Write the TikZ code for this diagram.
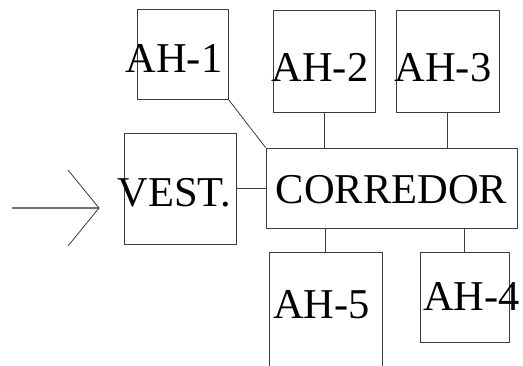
\documentclass[tikz,border=0pt]{standalone}
\usepackage{fontspec}
\setmainfont{Liberation Serif}
\usepackage{tikz}
\usetikzlibrary{positioning, calc}
\definecolor{wall}{RGB}{60,60,60}

\begin{document}
\begin{tikzpicture}[x=1pt, y=-1pt,
   room/.style={rectangle, draw=wall, line width=0.8pt, inner sep=0pt},
   lbl/.style={font=\fontsize{42.5}{42.5}\selectfont, inner sep=0pt, anchor=base},
   link/.style={draw=wall, line width=0.8pt}]
  \useasboundingbox (0,0) rectangle (523,365);
  % rooms
  \node[room, minimum width=91pt, minimum height=90pt] (ah1) at (182.5,54) {};
  \node[room, minimum width=102pt, minimum height=102pt] (ah2) at (324,61) {};
  \node[room, minimum width=103pt, minimum height=102pt] (ah3) at (447.5,61) {};
  \node[room, minimum width=112pt, minimum height=111pt] (vest) at (180,188.5) {};
  \node[room, minimum width=251pt, minimum height=80pt] (corr) at (391.5,188) {};
  \node[room, minimum width=113pt, minimum height=126pt] (ah5) at (325.5,315) {};
  \node[room, minimum width=89pt, minimum height=90pt] (ah4) at (464.5,297) {};
  % texts
  \node[lbl] (t1) at (174,72) {AH-1};
  \node[lbl] (t2) at (320,81) {AH-2};
  \node[lbl] (t3) at (443,81) {AH-3};
  \node[lbl] (tv) at (174.5,206) {VEST.};
  \node[lbl] (tc) at (391.5,203) {CORREDOR};
  \node[lbl] (t5) at (321.5,318) {AH-5};
  \node[lbl] (t4) at (471.5,310) {AH-4};
  % doors
  \draw[link] (ah1.south east) -- (corr.north west);
  \draw[link] (ah2.south) -- (ah2.south |- corr.north);
  \draw[link] (ah3.south) -- (ah3.south |- corr.north);
  \draw[link] (vest.east) -- (vest.east -| corr.west);
  \draw[link] (corr.south -| ah5.north) -- (ah5.north);
  \draw[link] (corr.south -| ah4.north) -- (ah4.north);
  % entrance
  \coordinate (in) at (12,208);
  \coordinate (tip) at (99,208);
  \coordinate (bup) at (68,170);
  \coordinate (bdn) at (68,246);
  \draw[link, draw=black!55, line width=1.2pt] (in) -- (tip);
  \draw[link] (bup) -- (tip) -- (bdn);
\end{tikzpicture}
\end{document}
